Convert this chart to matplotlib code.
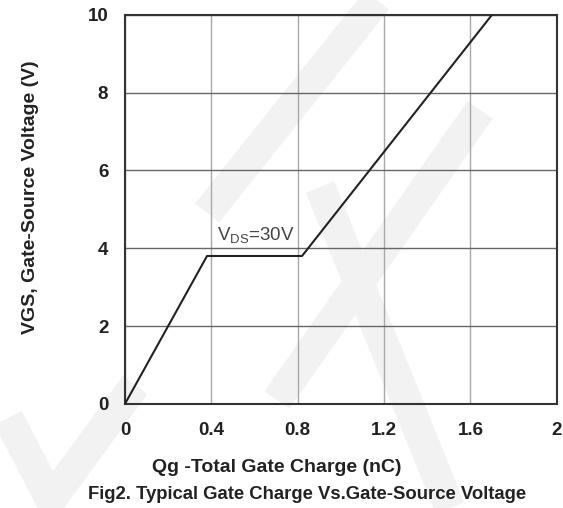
import matplotlib
matplotlib.use("Agg")
import matplotlib.pyplot as plt
from matplotlib.lines import Line2D

# gate charge curve (nC, V)
qg = [0.0, 0.38, 0.82, 1.70]
vgs = [0.0, 3.8, 3.8, 10.0]
xticks = [0, 0.4, 0.8, 1.2, 1.6, 2]
xticklabels = ["0", "0.4", "0.8", "1.2", "1.6", "2"]
yticks = [0, 2, 4, 6, 8, 10]

plt.rcParams['font.family'] = ['Liberation Sans', 'DejaVu Sans']
plt.rcParams['font.weight'] = 'bold'

fig = plt.figure(figsize=(5.63, 5.08), dpi=100)

# faint background watermark strokes (pixel coords -> figure fraction)
for (x0, y0), (x1, y1) in [((377, 0), (207, 213)), ((480, 110), (277, 400)),
                           ((320, 187), (450, 508)), ((45, 508), (135, 385)),
                           ((8, 418), (55, 508))]:
    fig.add_artist(Line2D([x0 / 563, x1 / 563], [1 - y0 / 508, 1 - y1 / 508],
                          color='#f2f2f2', lw=22, solid_capstyle='butt', zorder=0))

ax = fig.add_axes([0.222, 0.205, 0.767, 0.766])
ax.set_facecolor('none')

ax.plot(qg, vgs, color='#222222', lw=1.5, zorder=3)
ax.text(0.425, 4.05, r'V$_{\mathregular{DS}}$=30V', fontsize=13.5, fontweight='normal',
        color='#444444', va='bottom', ha='left')

ax.set_xlim(0, 2)
ax.set_ylim(0, 10)
ax.set_xticks(xticks)
ax.set_xticklabels(xticklabels)
ax.set_yticks(yticks)
ax.xaxis.grid(True, color='#a8a8a8', lw=1.0)
ax.yaxis.grid(True, color='#666666', lw=1.0)
ax.tick_params(length=0, labelsize=13.5, colors='#222222')
ax.tick_params(axis='x', pad=13)
ax.tick_params(axis='y', pad=12)
for s in ax.spines.values():
    s.set_color('#333333')
    s.set_linewidth(1.5)

ax.set_ylabel('VGS, Gate-Source Voltage (V)', fontsize=14, fontweight='bold',
              color='#222222')
ax.yaxis.set_label_coords(-0.2, 0.53)
fig.text(0.492, 0.079, 'Qg -Total Gate Charge (nC)', fontsize=14, fontweight='bold',
         color='#222222', ha='center', va='center')
fig.text(0.546, 0.027, 'Fig2. Typical Gate Charge Vs.Gate-Source Voltage', fontsize=13.3,
         fontweight='bold', color='#222222', ha='center', va='center')

fig.savefig('out.png', dpi=100)
